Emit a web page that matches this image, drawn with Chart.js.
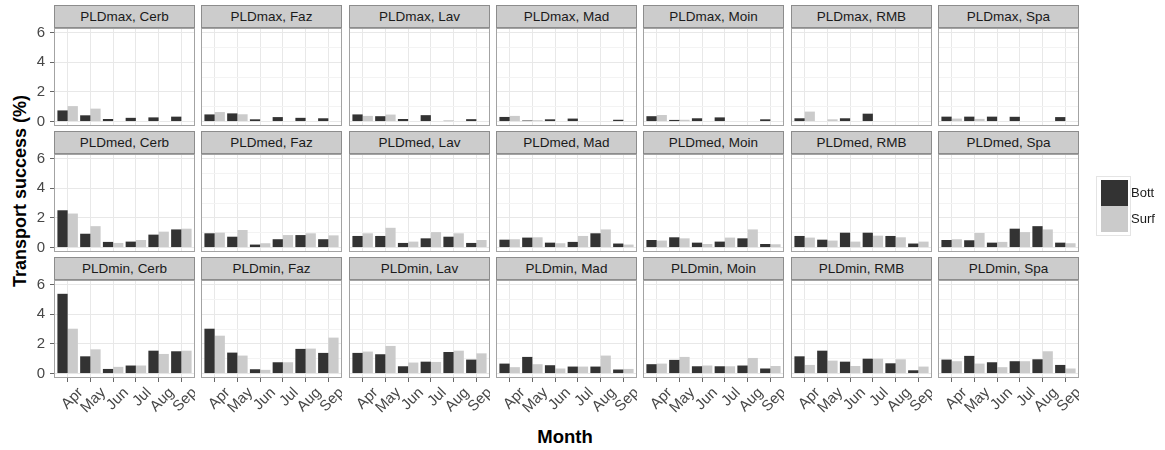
<!DOCTYPE html>
<html>
<head>
<meta charset="utf-8">
<script src="https://cdn.jsdelivr.net/npm/chart.js@4.4.1/dist/chart.umd.min.js"></script>
<style>
  body { margin: 0; background: #fff; font-family: "Liberation Sans", Arial, sans-serif; }
  #wrap { position: relative; width: 1165px; height: 450px; overflow: hidden; }
  #wrap canvas { position: absolute; }
  .strip { position: absolute; box-sizing: border-box; background: #cccccc; border: 1px solid #8c8c8c;
           text-align: center; font-size: 13.5px; line-height: 21px; color: #1a1a1a; white-space: nowrap; }
  .title { position: absolute; font-weight: bold; color: #000; white-space: nowrap; }
  .key { position: absolute; }
  .keylab { position: absolute; font-size: 13px; color: #1a1a1a; line-height: 16px; }
</style>
</head>
<body>
<div id="wrap">
  <div class="title" id="ytitle" style="left:20px; top:191px; font-size:18px; transform: translate(-50%, -50%) rotate(-90deg);">Transport success (%)</div>
  <div class="title" style="left:565px; top:437px; font-size:18.5px; transform: translate(-50%, -50%);">Month</div>
</div>
<script>
// Datos (porcentaje de éxito de transporte)
const months = ['Apr', 'May', 'Jun', 'Jul', 'Aug', 'Sep']
const sites = ['Cerb', 'Faz', 'Lav', 'Mad', 'Moin', 'RMB', 'Spa']
const series = ['Bott', 'Surf']
const yTicks = [0, 1, 2, 3, 4, 5, 6]

// una fila por sitio, en el orden de 'sites'
const bott_max = [
  [0.75, 0.42, 0.17, 0.25, 0.28, 0.33],
  [0.48, 0.55, 0.15, 0.30, 0.25, 0.22],
  [0.48, 0.36, 0.17, 0.43, 0.05, 0.16],
  [0.31, 0.07, 0.15, 0.20, 0, 0.12],
  [0.36, 0.11, 0.22, 0.28, 0, 0.15],
  [0.22, 0, 0.22, 0.53, 0, 0],
  [0.33, 0.33, 0.33, 0.32, 0, 0.30]
]
const surf_max = [
  [1.04, 0.87, 0, 0, 0, 0],
  [0.64, 0.49, 0, 0, 0, 0],
  [0.38, 0.47, 0, 0, 0, 0],
  [0.38, 0.09, 0, 0, 0, 0],
  [0.44, 0.12, 0, 0, 0, 0],
  [0.67, 0.15, 0, 0, 0, 0],
  [0.20, 0.18, 0, 0, 0, 0]
]
const bott_med = [
  [2.51, 0.93, 0.38, 0.40, 0.87, 1.22],
  [0.96, 0.73, 0.20, 0.56, 0.84, 0.56],
  [0.78, 0.78, 0.31, 0.62, 0.73, 0.31],
  [0.53, 0.67, 0.33, 0.38, 0.96, 0.27],
  [0.51, 0.69, 0.33, 0.40, 0.62, 0.24],
  [0.78, 0.53, 1.00, 1.00, 0.78, 0.27],
  [0.51, 0.49, 0.33, 1.27, 1.44, 0.33]
]
const surf_med = [
  [2.29, 1.44, 0.31, 0.51, 1.07, 1.27],
  [1.00, 1.18, 0.29, 0.84, 0.96, 0.82],
  [0.96, 1.33, 0.40, 1.04, 0.96, 0.51],
  [0.56, 0.69, 0.29, 0.78, 1.22, 0.20],
  [0.47, 0.62, 0.24, 0.67, 1.22, 0.22],
  [0.67, 0.47, 0.40, 0.80, 0.69, 0.40],
  [0.56, 0.98, 0.38, 1.04, 1.22, 0.29]
]
const bott_min = [
  [5.37, 1.16, 0.31, 0.54, 1.54, 1.50],
  [3.02, 1.41, 0.29, 0.76, 1.66, 1.39],
  [1.39, 1.30, 0.49, 0.80, 1.45, 0.94],
  [0.67, 1.12, 0.56, 0.47, 0.47, 0.27],
  [0.63, 0.92, 0.49, 0.49, 0.54, 0.34],
  [1.16, 1.54, 0.80, 1.00, 0.69, 0.22],
  [0.94, 1.19, 0.76, 0.83, 0.96, 0.58]
]
const surf_min = [
  [3.02, 1.63, 0.45, 0.54, 1.32, 1.54],
  [2.55, 1.21, 0.25, 0.76, 1.68, 2.42],
  [1.48, 1.86, 0.74, 0.78, 1.54, 1.36],
  [0.43, 0.63, 0.34, 0.47, 1.21, 0.31],
  [0.67, 1.12, 0.54, 0.49, 1.05, 0.51],
  [0.58, 0.87, 0.51, 1.00, 0.96, 0.47],
  [0.83, 0.67, 0.43, 0.83, 1.50, 0.34]
]

const facetRows = [
  { pld: 'PLDmax', bott: bott_max, surf: surf_max },
  { pld: 'PLDmed', bott: bott_med, surf: surf_med },
  { pld: 'PLDmin', bott: bott_min, surf: surf_min }
]

const colores = ['#333333', '#cbcbcb']
const FONT = 'Liberation Sans'
Chart.defaults.font.family = FONT

// Geometría de las facetas
const colLeft = (i) => Math.round(54 + i * 147.3)
const stripTop = [5, 131, 257]
const STRIP_H = 23
const PLOT_W = 141
const PLOT_H = 98
const AX_W = 54
const PAD_T = 10
const X_AX_H = 40

const panelBorder = {
  id: 'panelBorder',
  afterDraw(chart) {
    const { ctx, chartArea: a } = chart
    ctx.save()
    ctx.strokeStyle = '#a3a3a3'
    ctx.lineWidth = 1
    ctx.strokeRect(Math.round(a.left) + 0.5, Math.round(a.top) + 0.5,
                   Math.round(a.right - a.left) - 1, Math.round(a.bottom - a.top) - 1)
    ctx.restore()
  }
}

const wrap = document.getElementById('wrap')

facetRows.forEach((fila, r) => {
  const ultima = r === facetRows.length - 1
  sites.forEach((site, c) => {
    const left = colLeft(c)

    const canvas = document.createElement('canvas')
    const h = PAD_T + PLOT_H + (ultima ? X_AX_H : 10)
    canvas.width = AX_W + PLOT_W
    canvas.height = h
    canvas.style.left = (left - AX_W) + 'px'
    canvas.style.top = (stripTop[r] + STRIP_H - PAD_T) + 'px'
    wrap.appendChild(canvas)

    const strip = document.createElement('div')
    strip.className = 'strip'
    strip.style.left = left + 'px'
    strip.style.top = stripTop[r] + 'px'
    strip.style.width = PLOT_W + 'px'
    strip.style.height = STRIP_H + 'px'
    strip.textContent = `${fila.pld}, ${site}`
    wrap.appendChild(strip)

    new Chart(canvas, {
      type: 'bar',
      data: {
        labels: months,
        datasets: [
          { label: series[0], data: fila.bott[c], backgroundColor: colores[0], borderWidth: 0 },
          { label: series[1], data: fila.surf[c], backgroundColor: colores[1], borderWidth: 0 }
        ]
      },
      options: {
        responsive: false,
        animation: false,
        events: [],
        layout: { padding: { top: PAD_T, bottom: ultima ? 0 : 10, left: 0, right: 0 } },
        datasets: { bar: { barPercentage: 1, categoryPercentage: 0.9 } },
        plugins: { legend: { display: false }, tooltip: { enabled: false } },
        scales: {
          x: {
            offset: true,
            border: { display: false },
            grid: { offset: false, color: '#e8e8e8', drawTicks: ultima, tickLength: 4, tickColor: '#666' },
            ticks: {
              display: ultima, autoSkip: false, minRotation: 45, maxRotation: 45,
              padding: 2, labelOffset: 13, color: '#474747', font: { size: 15 }
            },
            // expansión discreta de ggplot (0.6 a cada lado)
            afterBuildTicks: (s) => { s._startValue = -0.6; s._valueRange = months.length + 0.2 },
            afterFit: (s) => { s.height = ultima ? X_AX_H : 0; s.paddingLeft = 0; s.paddingRight = 0 }
          },
          y: {
            min: -0.3,
            max: 6.3,
            border: { display: false },
            afterBuildTicks: (s) => { s.ticks = yTicks.map(v => ({ value: v })) },
            grid: {
              color: (ctx) => (ctx.tick && ctx.tick.value % 2) ? '#f3f3f3' : '#e8e8e8',
              drawTicks: c === 0,
              tickLength: 4,
              tickColor: (ctx) => (ctx.tick && ctx.tick.value % 2) ? 'rgba(0,0,0,0)' : '#666'
            },
            ticks: {
              display: c === 0, padding: 5, color: '#474747', font: { size: 15 },
              callback: (v) => v % 2 ? '' : v
            },
            afterFit: (s) => { s.width = AX_W; s.paddingTop = 0; s.paddingBottom = 0 }
          }
        }
      },
      plugins: [panelBorder]
    })
  })
})

// Leyenda
const legBox = document.createElement('div')
legBox.className = 'key'
Object.assign(legBox.style, { left: '1096px', top: '176px', width: '35px', height: '60px', border: '1px solid #e4e4e4', boxSizing: 'border-box' })
wrap.appendChild(legBox)
series.forEach((s, i) => {
  const k = document.createElement('div')
  k.className = 'key'
  Object.assign(k.style, { left: '1101px', top: (180 + i * 26) + 'px', width: '27px', height: '26px', background: colores[i] })
  wrap.appendChild(k)
  const t = document.createElement('div')
  t.className = 'keylab'
  t.textContent = s
  Object.assign(t.style, { left: '1131px', top: (185 + i * 26) + 'px' })
  wrap.appendChild(t)
})
</script>
</body>
</html>
